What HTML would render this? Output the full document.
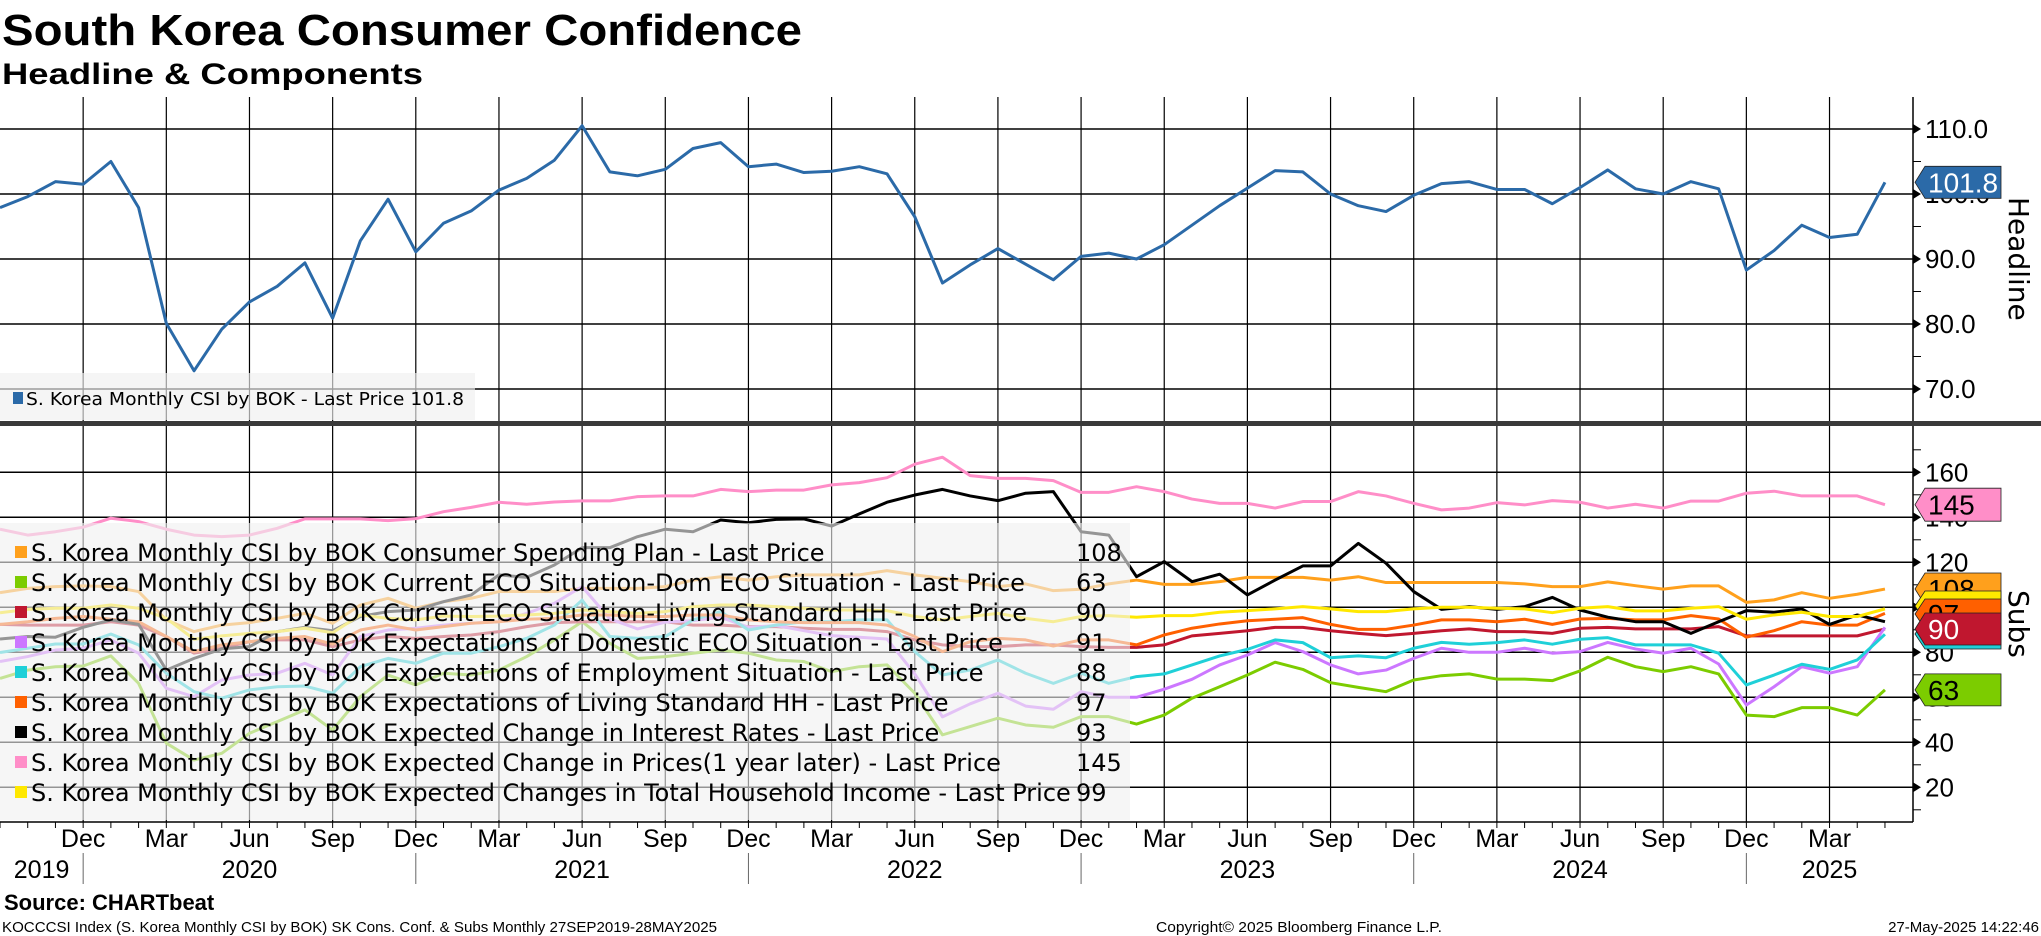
<!DOCTYPE html>
<html><head><meta charset="utf-8"><style>
html,body{margin:0;padding:0;background:#fff;width:2041px;height:936px;overflow:hidden}
svg{display:block}
text{font-family:"Liberation Sans",sans-serif}
.dj{font-family:"DejaVu Sans","Liberation Sans",sans-serif}
</style></head><body>
<svg id="chart" width="2041" height="936" viewBox="0 0 2041 936" xmlns="http://www.w3.org/2000/svg">
<text x="2" y="45" font-size="44" font-weight="bold" textLength="800" lengthAdjust="spacingAndGlyphs">South Korea Consumer Confidence</text>
<text x="2" y="84" font-size="30" font-weight="bold" textLength="421" lengthAdjust="spacingAndGlyphs">Headline &amp; Components</text>
<g id="grid"></g>
<g id="series"></g>
<g id="overlay"></g>
<text x="4" y="910" font-size="22" font-weight="bold">Source: CHARTbeat</text>
<text x="2" y="932" font-size="15" textLength="715" lengthAdjust="spacingAndGlyphs">KOCCCSI Index (S. Korea Monthly CSI by BOK) SK Cons. Conf. &amp; Subs  Monthly 27SEP2019-28MAY2025</text>
<text x="1156" y="932" font-size="15" textLength="286" lengthAdjust="spacingAndGlyphs">Copyright© 2025 Bloomberg Finance L.P.</text>
<text x="2039" y="932" font-size="15" text-anchor="end">27-May-2025 14:22:46</text>
</svg>
<script>
const headline = [97.9,99.6,101.9,101.5,105.0,97.9,80.1,72.8,79.2,83.4,85.8,89.4,80.9,92.8,99.2,91.1,95.5,97.4,100.6,102.4,105.2,110.5,103.4,102.8,103.8,107.0,107.9,104.2,104.6,103.3,103.5,104.2,103.1,96.5,86.3,89.1,91.6,89.2,86.8,90.4,90.9,90.0,92.2,95.2,98.2,100.9,103.6,103.4,100.0,98.2,97.3,99.8,101.6,101.9,100.7,100.7,98.5,101.0,103.7,100.8,100.0,101.9,100.8,88.3,91.3,95.2,93.3,93.8,101.8];
const spendingPlan = [106.5,108.4,109.2,109.5,109.2,107.0,94.4,89.2,92.1,93.2,95.1,97.3,92.9,101.0,104.0,99.6,102.5,104.0,107.0,107.0,107.0,108.4,108.4,108.4,109.2,112.1,113.6,112.1,113.6,114.4,114.4,114.4,116.3,114.4,112.9,111.4,109.2,110.4,107.4,108.0,110.4,112.1,110.2,110.2,111.4,113.3,113.3,113.3,112.1,113.6,111.0,111.0,111.0,111.0,111.0,110.4,109.2,109.2,111.3,109.6,108.1,109.5,109.5,102.2,103.3,106.5,104.0,105.8,108.1];
const curDomEco = [68.4,72.1,73.6,73.9,78.4,66.2,39.6,32.1,35.1,44.0,49.2,54.4,45.5,60.3,69.9,65.5,70.7,69.9,72.1,78.1,85.5,93.6,84.0,77.3,78.1,79.6,81.0,79.6,76.6,75.9,71.4,73.6,74.4,61.8,43.3,47.0,50.7,47.7,46.7,51.4,51.4,48.1,52.1,59.6,64.7,69.9,75.6,72.4,66.5,64.4,62.5,67.7,69.6,70.4,68.1,68.1,67.4,71.7,77.8,73.6,71.4,73.6,70.4,52.1,51.4,55.4,55.4,52.1,63.3];
const curLivingStd = [92.4,92.1,92.1,92.1,93.6,92.1,87.0,79.6,81.8,84.7,85.5,85.5,82.5,85.5,87.0,86.2,87.0,87.7,89.2,91.4,93.2,93.6,93.6,93.6,93.6,92.1,92.1,91.4,91.4,90.7,90.2,90.2,89.2,85.5,83.3,82.5,82.5,83.3,83.3,82.5,82.2,82.2,83.3,87.3,88.4,89.6,91.1,91.1,89.6,88.4,87.4,88.4,89.6,90.4,89.2,89.2,88.4,90.7,91.1,90.4,90.4,90.4,91.4,87.3,87.3,87.3,87.3,87.3,90.4];
const expDomEco = [75.9,78.1,81.0,81.8,85.5,79.6,64.0,60.3,67.7,69.9,70.7,75.1,69.9,87.0,89.9,90.7,92.1,92.9,93.6,97.3,101.8,109.2,94.8,90.4,93.4,94.1,95.6,91.1,91.9,89.6,87.4,86.7,85.9,70.4,51.3,57.1,61.8,56.1,54.7,62.5,60.0,60.0,63.6,68.0,74.4,78.8,84.3,80.3,74.4,70.4,72.1,77.3,81.8,80.0,80.0,81.8,79.6,80.3,84.4,81.5,79.6,81.8,74.8,56.6,64.7,73.6,70.7,73.6,91.1];
const expEmployment = [79.9,81.8,83.7,83.7,88.1,83.3,70.7,62.5,59.6,63.3,64.7,65.0,61.8,73.6,77.3,75.1,79.6,79.6,82.5,86.2,92.1,103.2,87.0,86.2,87.0,94.4,98.1,89.9,92.1,93.6,93.6,94.4,94.4,80.3,69.9,72.1,76.6,70.7,66.2,70.7,66.2,69.2,70.4,74.4,78.4,81.3,85.5,84.3,77.6,78.4,77.6,81.8,84.4,83.6,84.3,85.5,83.6,85.8,86.5,83.3,83.3,83.3,79.6,65.5,69.9,74.7,72.4,76.6,88.0];
const expLivingStd = [92.4,93.6,95.1,95.9,94.7,93.6,87.0,80.3,83.3,84.7,86.2,87.0,83.6,89.9,92.1,89.9,91.4,92.9,93.6,94.7,95.1,96.6,96.6,95.9,95.9,96.6,96.6,94.4,93.6,93.2,93.2,93.2,92.1,87.0,80.3,84.7,86.2,85.5,82.8,85.5,85.5,83.3,87.7,90.7,92.6,94.0,94.7,95.4,92.4,90.2,90.2,92.1,94.4,94.4,93.6,94.7,92.4,94.8,95.1,94.4,94.4,96.3,94.8,86.7,89.6,93.6,92.1,92.1,97.3];
const interestRates = [85.9,87.0,86.7,91.1,94.4,92.4,72.1,77.3,81.5,82.5,89.2,91.1,89.6,95.9,98.1,98.8,102.5,105.5,114.4,113.3,118.8,126.5,126.5,131.4,134.7,133.6,138.8,137.6,139.1,139.3,136.1,141.5,146.7,149.9,152.4,149.5,147.4,150.7,151.4,133.6,132.1,113.6,120.3,111.4,114.7,105.5,112.1,118.4,118.4,128.4,119.6,107.0,99.1,100.3,99.1,100.3,104.4,98.8,95.6,93.6,93.6,88.4,93.6,98.5,97.8,99.3,92.4,96.6,93.6];
const prices = [134.7,132.1,133.6,135.6,139.6,138.1,134.7,132.1,131.4,132.1,135.1,139.3,139.3,139.3,138.5,139.4,142.5,144.4,146.7,145.8,146.8,147.3,147.3,149.2,149.5,149.5,152.4,151.4,152.1,152.1,154.4,155.4,157.6,163.6,166.7,158.5,157.3,157.3,156.3,151.1,151.1,153.6,151.4,148.1,146.2,146.2,144.1,147.0,147.0,151.4,149.5,146.2,143.3,144.1,146.5,145.5,147.4,146.7,144.1,145.8,144.1,147.2,147.2,150.7,151.6,149.5,149.5,149.5,145.6];
const hhIncome = [97.6,99.1,99.6,99.6,101.0,99.6,95.1,85.8,87.3,88.4,89.2,90.7,88.7,96.6,95.1,94.4,96.1,95.9,96.1,96.6,97.3,98.8,98.1,97.3,98.1,100.3,101.0,101.0,100.3,99.6,98.8,98.8,98.5,95.9,94.4,95.9,97.3,95.1,93.6,95.9,96.3,95.6,96.3,96.3,97.8,98.5,99.3,100.3,99.3,98.1,98.1,99.3,100.0,100.0,99.6,99.3,97.6,99.6,100.3,98.4,98.4,99.6,100.3,94.7,96.6,97.8,95.9,95.9,99.3];
const monthLabels = ["Dec","Mar","Jun","Sep","Dec","Mar","Jun","Sep","Dec","Mar","Jun","Sep","Dec","Mar","Jun","Sep","Dec","Mar","Jun","Sep","Dec","Mar"];
const monthLabelIdx = [3,6,9,12,15,18,21,24,27,30,33,36,39,42,45,48,51,54,57,60,63,66];
const yearLabels = ["2019","2020","2021","2022","2023","2024","2025"];
const yearLabelX = [1.5,9,21,33,45,57,66];
const yearSepIdx = [3,15,27,39,51,63];
const topTicks = [110,100,90,80,70];
const botTicks = [160,140,120,100,80,60,40,20];
const subNames = ["S. Korea Monthly CSI by BOK Consumer Spending Plan - Last Price","S. Korea Monthly CSI by BOK Current ECO Situation-Dom ECO Situation - Last Price","S. Korea Monthly CSI by BOK Current ECO Situation-Living Standard HH - Last Price","S. Korea Monthly CSI by BOK Expectations of Domestic ECO Situation - Last Price","S. Korea Monthly CSI by BOK Expectations of Employment Situation - Last Price","S. Korea Monthly CSI by BOK Expectations of Living Standard HH - Last Price","S. Korea Monthly CSI by BOK Expected Change in Interest Rates - Last Price","S. Korea Monthly CSI by BOK Expected Change in Prices(1 year later) - Last Price","S. Korea Monthly CSI by BOK Expected Changes in Total Household Income - Last Price"];
const subLast = ["108","63","90","91","88","97","93","145","99"];

const NS="http://www.w3.org/2000/svg";
const series=[spendingPlan,curDomEco,curLivingStd,expDomEco,expEmployment,expLivingStd,interestRates,prices,hhIncome];
const colors=["#ffa01c","#7ccc00","#c0172f","#cc77ff","#1fd0d8","#ff6000","#000000","#ff8ec8","#ffe800"];
const slugs=["spending-plan","current-dom-eco","current-living-standard","expected-dom-eco","expected-employment","expected-living-standard","interest-rates","prices","household-income"];
const XSTEP=27.72, AXISX=1913;
function x(i){return i*XSTEP;}
function yTop(v){return 129+(110-v)*6.5;}
function yBot(v){return 472.3+(160-v)*2.25;}
function mk(tag,attrs,parent){const e=document.createElementNS(NS,tag);for(const k in attrs)e.setAttribute(k,attrs[k]);parent.appendChild(e);return e;}
const grid=document.getElementById('grid'),ser=document.getElementById('series'),ov=document.getElementById('overlay');
const defs=mk('defs',{},grid);
const c1=mk('clipPath',{id:'ctop'},defs);mk('rect',{x:0,y:97,width:AXISX,height:324},c1);
const c2=mk('clipPath',{id:'cbot'},defs);mk('rect',{x:0,y:427,width:AXISX,height:395},c2);
// vertical grid
for(let i=3;i<=66;i+=3){
  const vl=mk('line',{x1:x(i),x2:x(i),y1:97,y2:822,stroke:'#000','stroke-width':1.2},grid);
  
  
}
topTicks.forEach(v=>{
  const l=mk('line',{x1:0,x2:AXISX,y1:yTop(v),y2:yTop(v),stroke:'#000','stroke-width':1.5},grid);
  
  
  mk('polygon',{points:`${AXISX},${yTop(v)-5} ${AXISX+8},${yTop(v)} ${AXISX},${yTop(v)+5}`,fill:'#000'},grid);
  const t=mk('text',{x:1925,y:yTop(v)+9,'font-size':26},grid);t.textContent=v.toFixed(1);
  
  
});
[105,95,85,75].forEach(v=>mk('line',{x1:AXISX,x2:AXISX+8,y1:yTop(v),y2:yTop(v),stroke:'#000','stroke-width':1},grid));
botTicks.forEach(v=>{
  const l=mk('line',{x1:0,x2:AXISX,y1:yBot(v),y2:yBot(v),stroke:'#000','stroke-width':1.5},grid);
  
  
  mk('polygon',{points:`${AXISX},${yBot(v)-5} ${AXISX+8},${yBot(v)} ${AXISX},${yBot(v)+5}`,fill:'#000'},grid);
  const t=mk('text',{x:1925,y:yBot(v)+9,'font-size':26},grid);t.textContent=v;
  
  
});
[170,150,130,110,90,70,50,30,10].forEach(v=>mk('line',{x1:AXISX,x2:AXISX+8,y1:yBot(v),y2:yBot(v),stroke:'#000','stroke-width':1},grid));
mk('line',{x1:AXISX,x2:AXISX,y1:97,y2:822,stroke:'#000','stroke-width':1.5},grid);
mk('line',{x1:0,x2:AXISX,y1:822,y2:822,stroke:'#000','stroke-width':1.5},grid);
for(let i=0;i<=68;i++)mk('line',{x1:x(i),x2:x(i),y1:822,y2:828,stroke:'#000','stroke-width':1},grid);
monthLabels.forEach((m,k)=>{
  const t=mk('text',{x:x(monthLabelIdx[k]),y:847,'font-size':25,'text-anchor':'middle'},grid);t.textContent=m;
  
  
});
yearLabels.forEach((yv,k)=>{
  const t=mk('text',{x:x(yearLabelX[k]),y:878,'font-size':25,'text-anchor':'middle'},grid);t.textContent=yv;
  
  
});
yearSepIdx.forEach(i=>mk('line',{x1:x(i),x2:x(i),y1:853,y2:884,stroke:'#666','stroke-width':1},grid));
// separator
mk('rect',{x:0,y:421,width:2041,height:5,fill:'#3a3a3a'},grid);
// headline line
const hp=mk('polyline',{points:headline.map((v,i)=>`${x(i)},${yTop(v)}`).join(' '),fill:'none',stroke:'#2b6aa8','stroke-width':3,'stroke-linejoin':'round','clip-path':'url(#ctop)'},ser);


series.forEach((s,k)=>{
  const p=mk('polyline',{points:s.map((v,i)=>`${x(i)},${yBot(v)}`).join(' '),fill:'none',stroke:colors[k],'stroke-width':3,'stroke-linejoin':'round','clip-path':'url(#cbot)'},ser);
  
  
});
// top legend
const tl=mk('rect',{x:0,y:373,width:475,height:47,fill:'rgba(240,240,240,0.65)'},ov);


mk('rect',{x:13,y:392,width:10,height:12,fill:'#2b6aa8'},ov);
const tlt=mk('text',{x:26,y:405,'font-size':18,class:'dj',textLength:438,lengthAdjust:'spacingAndGlyphs'},ov);
tlt.textContent='S. Korea Monthly CSI by BOK - Last Price 101.8';


// bottom legend
const bl=mk('rect',{x:0,y:523,width:1130,height:297,fill:'rgba(240,240,240,0.62)'},ov);


subNames.forEach((n,k)=>{
  const cy=552+k*30;
  mk('rect',{x:15,y:cy-6,width:12,height:12,fill:colors[k]},ov);
  const t=mk('text',{x:31,y:cy+9,'font-size':24,class:'dj'},ov);t.textContent=n;
  
  
  const vt=mk('text',{x:1076,y:cy+9,'font-size':24,class:'dj'},ov);vt.textContent=subLast[k];
  
  
});
// value tags
function tag(yc,h,fill,txt,tc,name){
  const g=mk('g',{},ov);
  
  
  mk('polygon',{points:`1915,${yc} 1925,${yc-h/2} 2001,${yc-h/2} 2001,${yc+h/2} 1925,${yc+h/2}`,fill:fill,stroke:'#222','stroke-width':0.8},g);
  const t=mk('text',{x:1928,y:yc+10,'font-size':28,fill:tc},g);t.textContent=txt;
}
tag(yTop(headline[68]),32,'#2b6aa8','101.8','#fff','headline-last-tag');
tag(yBot(prices[68]),33,'#ff8ec8','145','#000','prices-last-tag');
tag(589,32,'#ffa01c','108','#000','spending-last-tag');
tag(606,30,'#ffe800','','#000','income-last-tag');
tag(614,30,'#ff6000','97','#000','living-exp-last-tag');
tag(634,30,'#1fd0d8','','#000','employment-last-tag');
tag(629,32,'#c0172f','90','#fff','living-cur-last-tag');
tag(yBot(curDomEco[68]),32,'#7ccc00','63','#000','dom-eco-last-tag');
const ht=mk('text',{x:0,y:0,'font-size':28,class:'dj',transform:'translate(2009,197) rotate(90)'},ov);ht.textContent='Headline';


const st=mk('text',{x:0,y:0,'font-size':28,class:'dj',transform:'translate(2009,590) rotate(90)'},ov);st.textContent='Subs';


</script>
</body></html>
